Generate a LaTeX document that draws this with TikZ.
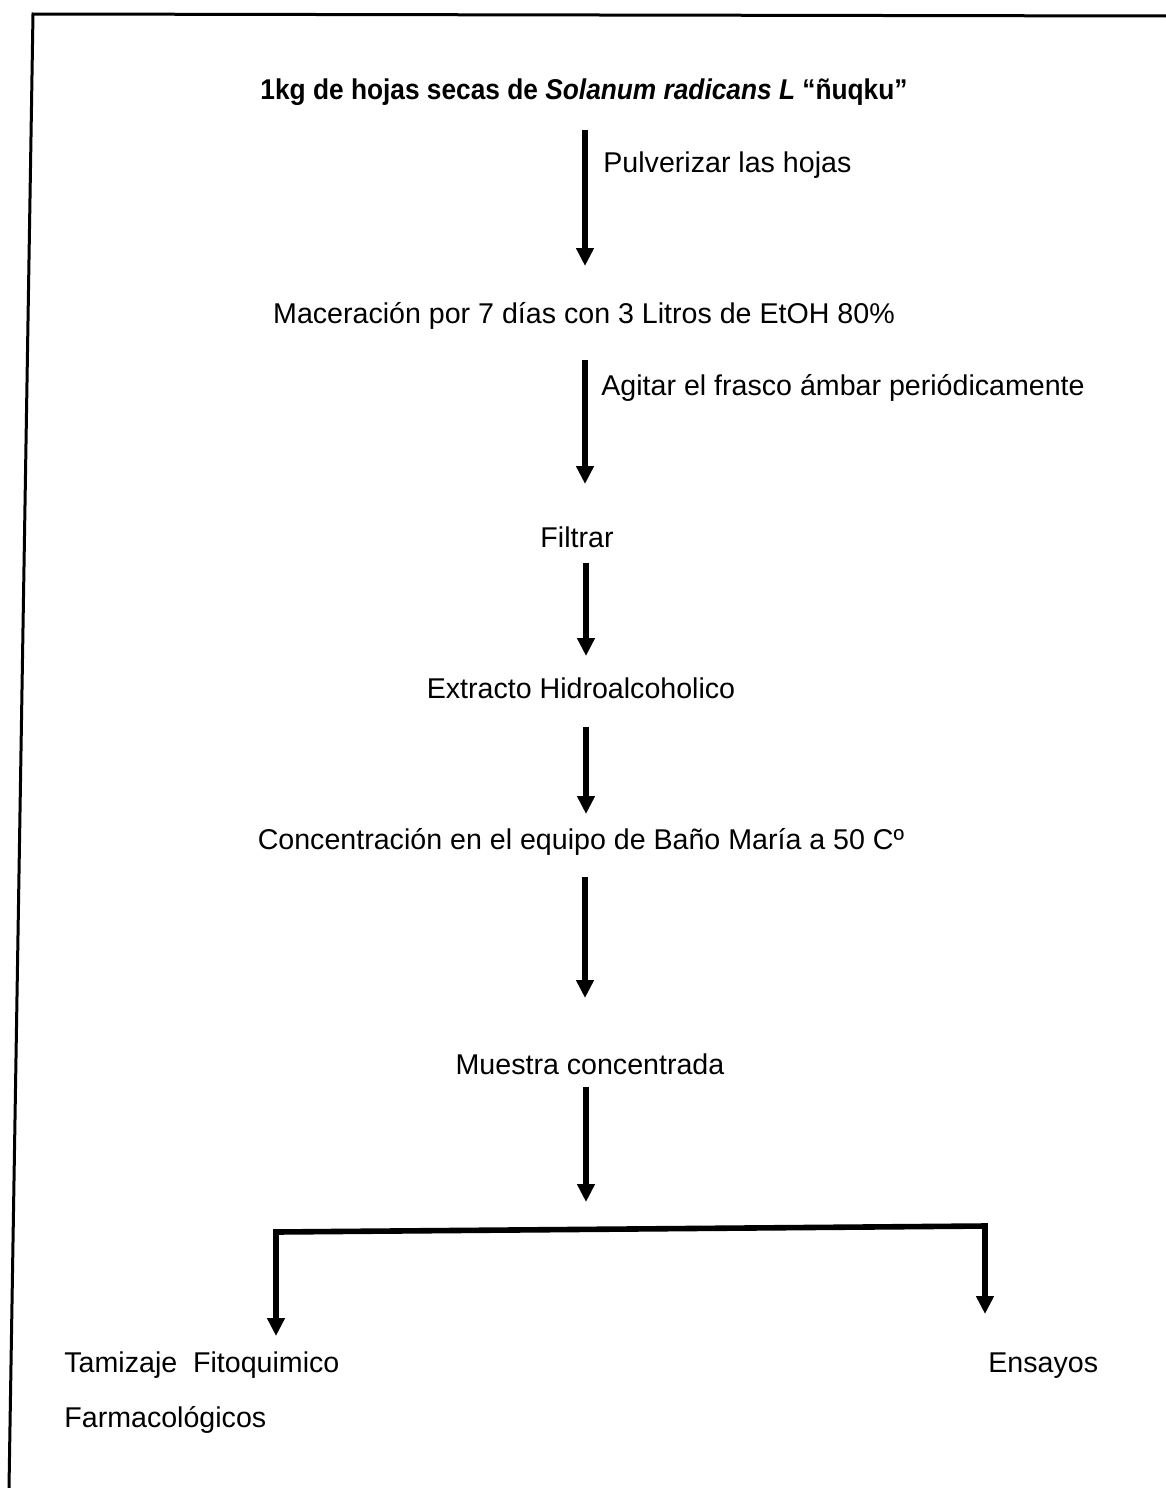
\documentclass[tikz,border=0pt]{standalone}
\usepackage{fontspec}
\setmainfont{Liberation Sans}
\usetikzlibrary{arrows.meta}
\begin{document}
\begin{tikzpicture}[x=0.5pt,y=-0.5pt,
  lbl/.style={font=\fontsize{14.3}{17}\selectfont, inner sep=0pt, anchor=base},
  ttl/.style={font=\fontsize{14.3}{17}\selectfont\bfseries, inner sep=0pt, anchor=base},
  arr/.style={line width=2.6pt, -{Triangle[width=8.5pt,length=9pt]}},
  bar/.style={line width=2.8pt, line cap=rect},
  frame/.style={line width=1.5pt}]
\useasboundingbox (0,0) rectangle (1166,1488);
% frame (open at right and bottom, as cropped)
\coordinate (fb) at (9,1488);
\coordinate (fc) at (33,14);
\coordinate (fr) at (1166,16);
\draw[frame] (fb) -- (fc) -- (fr);
% texts
\node[ttl] (t1) at (584,99) {\scalebox{0.919}[1]{1kg de hojas secas de \textit{Solanum radicans L} “ñuqku”}};
\node[lbl, anchor=base west] (l1) at (603,172) {Pulverizar las hojas};
\node[lbl] (t2) at (584,323) {Maceración por 7 días con 3 Litros de EtOH 80\%};
\node[lbl, anchor=base west] (l2) at (601,395) {Agitar el frasco ámbar periódicamente};
\node[lbl] (t3) at (577,547) {Filtrar};
\node[lbl] (t4) at (581,698) {Extracto Hidroalcoholico};
\node[lbl] (t5) at (581,849) {Concentración en el equipo de Baño María a 50 Cº};
\node[lbl] (t6) at (590,1074) {Muestra concentrada};
\node[lbl, anchor=base west, align=left, font=\fontsize{14.3}{27.5}\selectfont] (t7) at (64,1427) {Tamizaje\ \ Fitoquimico\\Farmacológicos};
\node[lbl, anchor=base west] (t8) at (988,1372) {Ensayos};
% arrows
\coordinate (a1s) at (585,130);  \coordinate (a1e) at (585,266);
\coordinate (a2s) at (585,360);  \coordinate (a2e) at (585,484);
\coordinate (a3s) at (586,563);  \coordinate (a3e) at (586,656);
\coordinate (a4s) at (586,727);  \coordinate (a4e) at (586,814);
\coordinate (a5s) at (585,877);  \coordinate (a5e) at (585,998);
\coordinate (a6s) at (586,1087); \coordinate (a6e) at (586,1202);
\draw[arr] (a1s) -- (a1e);
\draw[arr] (a2s) -- (a2e);
\draw[arr] (a3s) -- (a3e);
\draw[arr] (a4s) -- (a4e);
\draw[arr] (a5s) -- (a5e);
\draw[arr] (a6s) -- (a6e);
% branch
\coordinate (bl) at (276,1232);
\coordinate (br) at (985,1226);
\coordinate (ble) at (276,1336);
\coordinate (bre) at (985,1314);
\draw[bar] (bl) -- (br);
\draw[arr] (bl) -- (ble);
\draw[arr] (br) -- (bre);
\end{tikzpicture}
\end{document}
